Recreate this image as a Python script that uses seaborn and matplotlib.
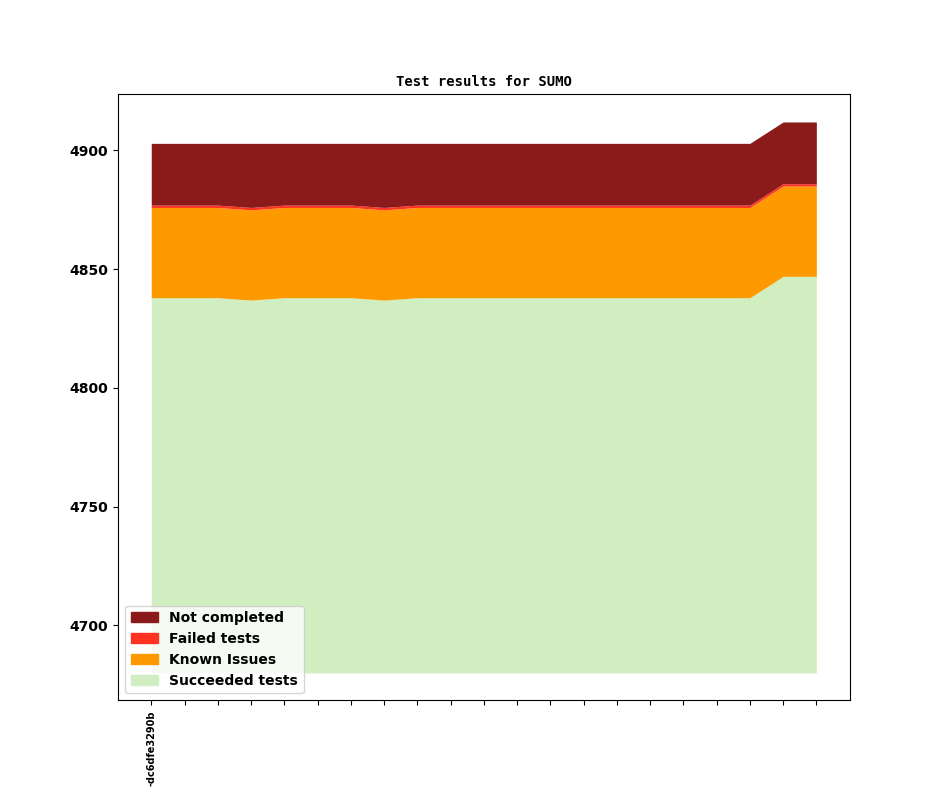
import numpy as np
import matplotlib as mpl
mpl.use("Agg")
import matplotlib.pyplot as plt
import matplotlib.patches as mpatches
import seaborn as sns

## Data: one entry per build (21 builds)
builds = np.arange(21)
build_labels = ["-dc6dfe3290b"] + [""] * 20
base_value = 4680
succeeded = [4838, 4838, 4838, 4837, 4838, 4838, 4838, 4837, 4838, 4838, 4838,
             4838, 4838, 4838, 4838, 4838, 4838, 4838, 4838, 4847, 4847]
known_issues = [38] * 21
failed = [1] * 21
not_completed = [26, 26, 26, 27, 26, 26, 26, 27, 26, 26, 26,
                 26, 26, 26, 26, 26, 26, 26, 26, 26, 26]

layer_names = ["Succeeded tests", "Known Issues", "Failed tests", "Not completed"]
layer_colors = sns.color_palette(["#d0eec0", "#ff9900", "#ff3322", "#8b1a1a"])

sns.set_style("ticks", {"axes.edgecolor": "black", "xtick.color": "black",
                        "ytick.color": "black", "axes.linewidth": 1.0,
                        "text.color": "black", "axes.labelcolor": "black"})

fig, ax = plt.subplots(figsize=(9.44, 7.87), dpi=100)

# stack the layers on top of the base value
layers = [succeeded, known_issues, failed, not_completed]
bottom = np.full(len(builds), base_value, dtype=float)
top = np.array(succeeded, dtype=float)
ax.fill_between(builds, bottom, top, color=layer_colors[0], linewidth=0)
for vals, col in zip(layers[1:], layer_colors[1:]):
    bottom = top
    top = bottom + np.array(vals, dtype=float)
    ax.fill_between(builds, bottom, top, color=col, linewidth=0)

ax.set_title("Test results for SUMO", fontsize=10, fontweight="bold",
             family="DejaVu Sans Mono", color="black")
ax.set_xticks(builds)
ax.set_xticklabels(build_labels, rotation=90, fontsize=7, fontweight="bold")
for lbl in ax.get_yticklabels():
    lbl.set_fontweight("bold")
ax.tick_params(axis="y", labelsize=10)

handles = [mpatches.Patch(color=c, label=n) for n, c in zip(layer_names, layer_colors)]
leg = ax.legend(handles=handles[::-1], loc="lower left",
                prop={"weight": "bold", "size": 10})
for t in leg.get_texts():
    t.set_color("black")

fig.subplots_adjust(left=0.125, right=0.9, top=0.88, bottom=0.11)
fig.savefig("out.png", dpi=100)
